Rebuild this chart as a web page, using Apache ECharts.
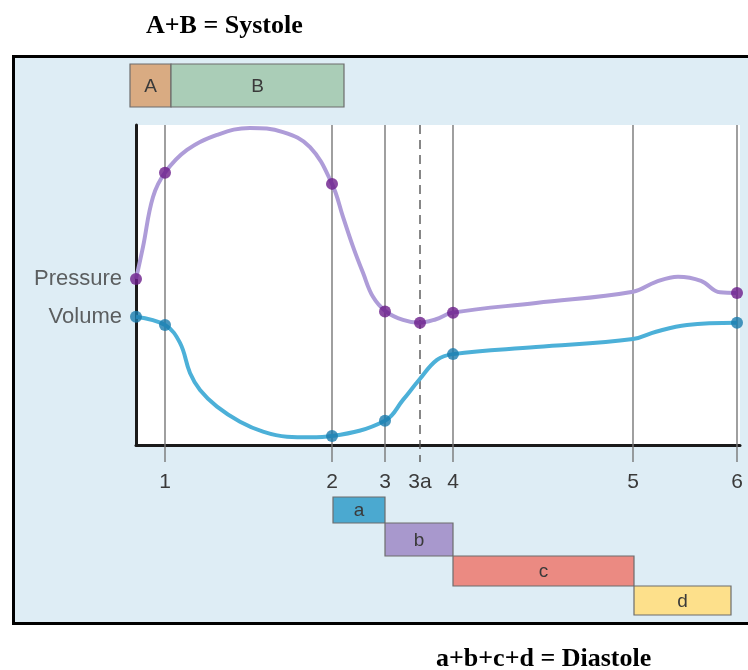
<!DOCTYPE html>
<html>
<head>
<meta charset="utf-8">
<style>html,body{margin:0;padding:0;background:#fff;}#chart{width:748px;height:670px;}</style>
<script src="https://cdn.jsdelivr.net/npm/echarts@6/dist/echarts.min.js"></script>
</head>
<body>
<div id="chart"></div>
<script>
// ---- data (time in arbitrary units from start of cycle, values in % of scale) ----
const markerLabels = ['1', '2', '3', '3a', '4', '5', '6'];
const markerTimes  = [29, 196, 249, 284, 317, 497, 601];
const markerDashed = [false, false, false, true, false, false, false];

const pressureCurveT = [0, 7, 17, 29, 51, 81, 114, 147, 174, 196, 207, 217, 227, 237, 250, 267, 283, 300, 316, 400, 497, 520, 542, 565, 584, 601];
const pressureCurveV = [51.9, 61.9, 77.5, 85.1, 92.2, 96.9, 99.1, 97.8, 93.1, 81.6, 71.3, 62.0, 53.8, 46.3, 41.7, 39.1, 38.2, 39.3, 41.3, 44.4, 47.9, 51.0, 52.6, 51.3, 47.7, 47.5];
const volumeCurveT = [0, 29, 44, 54, 64, 81, 104, 127, 151, 174, 196, 249, 267, 283, 301, 317, 400, 497, 520, 551, 601];
const volumeCurveV = [40.1, 37.5, 31.9, 22.5, 17.2, 12.0, 7.3, 4.2, 2.6, 2.4, 2.8, 7.6, 14.1, 20.3, 26.6, 28.4, 30.6, 33.1, 35.4, 37.5, 38.2];

const pressureDotT = [0, 29, 196, 249, 284, 317, 601];
const pressureDotV = [51.9, 85.1, 81.6, 41.7, 38.2, 41.3, 47.5];
const volumeDotT = [0, 29, 196, 249, 317, 601];
const volumeDotV = [40.1, 37.5, 2.8, 7.6, 28.4, 38.2];

const systoleLabels = ['A', 'B'];
const systoleStart  = [-6, 35];
const systoleEnd    = [35, 208];
const diastoleLabels = ['a', 'b', 'c', 'd'];
const diastoleStart  = [197, 249, 317, 498];
const diastoleEnd    = [249, 317, 498, 595];

// ---- styling / layout ----
const phaseColors = { A: '#d9ab82', B: '#aacdb7', a: '#4ba9d0', b: '#a898cd', c: '#eb8a82', d: '#fde08b' };
const diastoleRowTop = [52, 78, 111, 141];   // px below x axis
const diastoleRowH   = [26, 33, 30, 29];
const systoleRowTop = -61, systoleRowH = 43;  // px relative to plot top
const sansFont = '"Liberation Sans", Arial, sans-serif';
const serifFont = '"Liberation Serif", "Times New Roman", serif';

const zip = (a, b) => a.map((v, i) => [v, b[i]]);

const chart = echarts.init(document.getElementById('chart'), null, { renderer: 'canvas' });

function phaseItem(params, api, rowTopPx, rowH, fromTop) {
  const x0 = api.coord([api.value(0), 0])[0];
  const x1 = api.coord([api.value(1), 0])[0];
  const base = fromTop ? api.coord([0, 100])[1] : api.coord([0, 0])[1];
  const y0 = base + rowTopPx;
  const label = api.value(2);
  return {
    type: 'group',
    children: [
      { type: 'rect', shape: { x: x0, y: y0, width: x1 - x0, height: rowH },
        style: { fill: phaseColors[label], stroke: '#6d6d6d', lineWidth: 1.2 } },
      { type: 'text', style: { text: label, x: (x0 + x1) / 2, y: y0 + rowH / 2 + 1, align: 'center', verticalAlign: 'middle',
        fill: '#3a3a3a', font: '19px ' + sansFont } }
    ]
  };
}

const option = {
  animation: false,
  backgroundColor: '#ffffff',
  title: [
    { text: 'A+B = Systole', left: 146, top: 13, padding: 0,
      textStyle: { fontFamily: serifFont, fontWeight: 'bold', fontSize: 26, color: '#000' } },
    { text: 'a+b+c+d = Diastole', left: 436, top: 646, padding: 0,
      textStyle: { fontFamily: serifFont, fontWeight: 'bold', fontSize: 26, color: '#000' } }
  ],
  graphic: [
    { type: 'rect', z: -100, silent: true, shape: { x: 13.5, y: 56.5, width: 760, height: 567 },
      style: { fill: '#deedf5', stroke: '#000', lineWidth: 3 } }
  ],
  grid: { left: 136, top: 125, width: 604, height: 320, show: true, backgroundColor: '#ffffff', borderWidth: 0 },
  xAxis: {
    type: 'value', min: 0, max: 604,
    axisLine: { show: true, lineStyle: { color: '#1a1a1a', width: 3 } },
    axisTick: { show: false },
    splitLine: { show: false },
    axisLabel: {
      customValues: markerTimes,
      formatter: (v) => { const i = markerTimes.indexOf(v); return i >= 0 ? markerLabels[i] : ''; },
      margin: 27, fontSize: 21, color: '#3a3a3a', fontFamily: sansFont
    }
  },
  yAxis: {
    type: 'value', min: 0, max: 100,
    axisLine: { show: true, lineStyle: { color: '#1a1a1a', width: 3 } },
    axisTick: { show: false }, axisLabel: { show: false }, splitLine: { show: false }
  },
  series: [
    {
      type: 'custom', name: 'markers', z: 1, clip: false, silent: true,
      data: markerTimes.map((t, i) => [t, markerDashed[i] ? 1 : 0]),
      renderItem: (params, api) => {
        const t = api.value(0);
        const top = api.coord([t, 100]);
        const bot = api.coord([t, 0]);
        const dashed = api.value(1) === 1;
        return { type: 'line', shape: { x1: top[0], y1: top[1], x2: bot[0], y2: bot[1] + 17 },
          style: { stroke: dashed ? '#555' : '#777', lineWidth: 1.4, lineDash: dashed ? [9, 6] : null } };
      }
    },
    {
      type: 'custom', name: 'systole', z: 1, clip: false, silent: true,
      data: systoleLabels.map((l, i) => [systoleStart[i], systoleEnd[i], l]),
      dimensions: ['start', 'end', { name: 'label', type: 'ordinal' }],
      renderItem: (params, api) => phaseItem(params, api, systoleRowTop, systoleRowH, true)
    },
    {
      type: 'custom', name: 'diastole', z: 1, clip: false, silent: true,
      data: diastoleLabels.map((l, i) => [diastoleStart[i], diastoleEnd[i], l]),
      dimensions: ['start', 'end', { name: 'label', type: 'ordinal' }],
      renderItem: (params, api) => {
        const i = params.dataIndex;
        return phaseItem(params, api, diastoleRowTop[i], diastoleRowH[i], false);
      }
    },
    {
      type: 'line', name: 'Pressure', z: 3, clip: false, smooth: 0.4, symbol: 'none',
      lineStyle: { color: '#ae9cd8', width: 4 },
      data: zip(pressureCurveT, pressureCurveV)
    },
    {
      type: 'line', name: 'Volume', z: 3, clip: false, smooth: 0.4, symbol: 'none',
      lineStyle: { color: '#4cb0d8', width: 4 },
      data: zip(volumeCurveT, volumeCurveV)
    },
    {
      type: 'scatter', name: 'Pressure points', z: 4, clip: false, symbolSize: 12,
      itemStyle: { color: '#6b1d8b' },
      data: zip(pressureDotT, pressureDotV).map((p, i) => i === 0 ? {
        value: p, label: { show: true, formatter: 'Pressure', position: 'left', distance: 8,
          fontSize: 22, color: '#3a3a3a', fontFamily: sansFont } } : p)
    },
    {
      type: 'scatter', name: 'Volume points', z: 4, clip: false, symbolSize: 12,
      itemStyle: { color: '#1a7cae' },
      data: zip(volumeDotT, volumeDotV).map((p, i) => i === 0 ? {
        value: p, label: { show: true, formatter: 'Volume', position: 'left', distance: 8,
          fontSize: 22, color: '#3a3a3a', fontFamily: sansFont } } : p)
    }
  ]
};
chart.setOption(option);
</script>
</body>
</html>
